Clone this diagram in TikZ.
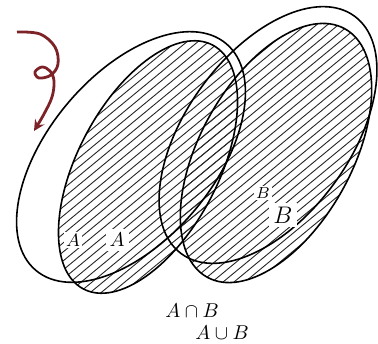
\documentclass[tikz,border=0pt]{standalone}
\usepackage{amsmath}
\definecolor{inkred}{RGB}{125,35,40}
\begin{document}
\begin{tikzpicture}[x=0.5pt, y=0.5pt, every node/.style={font=\normalsize}]
    \useasboundingbox (0,0) rectangle (378,343);

    % Штриховка
    \begin{scope}
        \clip (148,176) ellipse [x radius=138, y radius=70, rotate=62];
        \foreach \c in {-330,-321,...,345}
            \draw[line width=0.45pt, black!85] (0,\c) -- (400,\c+330);
    \end{scope}
    \begin{scope}
        \clip (276,190) ellipse [x radius=142, y radius=76, rotate=61];
        \foreach \c in {-330,-321,...,345}
            \draw[line width=0.45pt, black!85] (0,\c) -- (400,\c+330);
    \end{scope}

    % Множества
    \draw[thick, black] (131,186) ellipse [x radius=148, y radius=83, rotate=50];
    \draw[thick, black] (148,176) ellipse [x radius=138, y radius=70, rotate=62];
    \draw[thick, black] (268,208) ellipse [x radius=147, y radius=82, rotate=54];
    \draw[thick, black] (276,190) ellipse [x radius=142, y radius=76, rotate=61];

    % Подписи
    \node[fill=white, inner sep=1pt, font=\small] (smallA) at (73,103) {$A$};
    \node[fill=white, inner sep=2pt] (bigA) at (117,103) {$A$};
    \node[fill=white, inner sep=1pt, font=\footnotesize] (smallB) at (263,150) {$B$};
    \node[fill=white, inner sep=2pt, font=\large] (bigB) at (283,128) {$B$};
    \node[inner sep=0pt] (capAB) at (192,32) {$A\cap B$};
    \node[inner sep=0pt] (cupAB) at (222,10) {$A\cup B$};

    % Стрелка
    \draw[inkred, line width=1.4pt, -stealth] plot[smooth, tension=0.6] coordinates {
        (17,311) (40,309) (55,296) (58,279) (51,268) (39,265) (35,271)
        (42,276) (50,272) (54,262) (52,246) (44,229) (34,212)};
\end{tikzpicture}
\end{document}
